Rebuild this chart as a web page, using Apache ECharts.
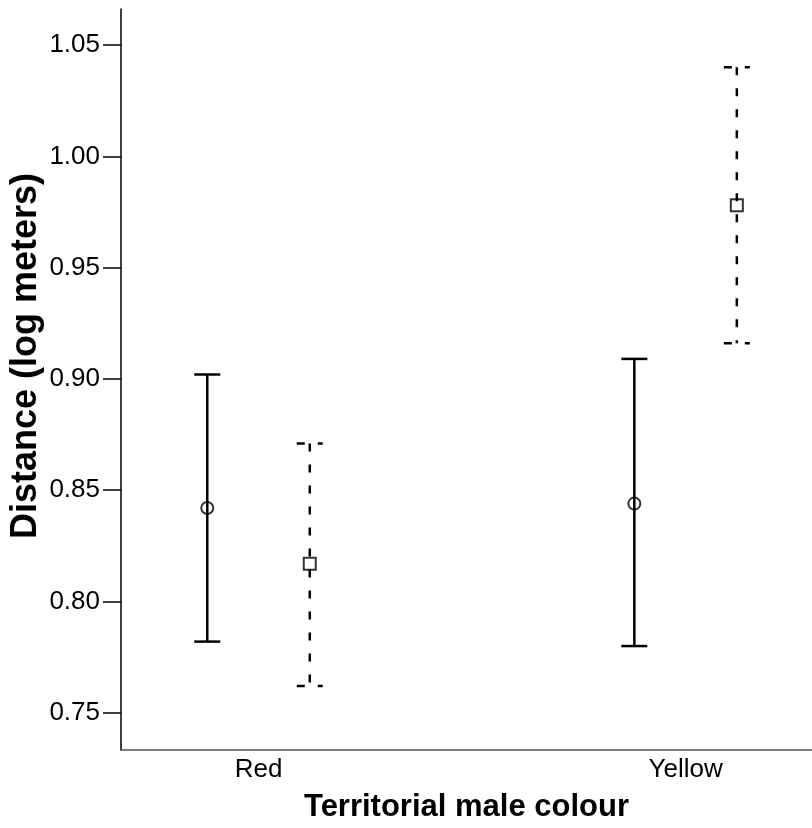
<!DOCTYPE html>
<html>
<head>
<meta charset="utf-8">
<script src="https://cdn.jsdelivr.net/npm/echarts@6/dist/echarts.min.js"></script>
<style>
  html, body { margin: 0; padding: 0; background: #fff; }
  #chart { width: 812px; height: 828px; }
</style>
</head>
<body>
<div id="chart"></div>
<script>
// categories on the x axis
const categories = ['Red', 'Yellow'];
// circle group (solid error bars)
const circleMean = [0.842, 0.844];
const circleLow = [0.782, 0.780];
const circleHigh = [0.902, 0.909];
// square group (dashed error bars)
const squareMean = [0.817, 0.978];
const squareLow = [0.762, 0.916];
const squareHigh = [0.871, 1.040];
// y tick labels
const yTicks = [0.75, 0.80, 0.85, 0.90, 0.95, 1.00, 1.05];

const SHIFT = 0.12; // side-by-side offset of the two groups
const FONT = 'Liberation Sans, Arial, sans-serif';

const circleBars = categories.map((c, i) => [i + 1 - SHIFT, circleLow[i], circleHigh[i]]);
const squareBars = categories.map((c, i) => [i + 1 + SHIFT, squareLow[i], squareHigh[i]]);
const circlePts = categories.map((c, i) => [i + 1 - SHIFT, circleMean[i]]);
const squarePts = categories.map((c, i) => [i + 1 + SHIFT, squareMean[i]]);

function errorBar(dashed) {
  return function (params, api) {
    const top = api.coord([api.value(0), api.value(2)]);
    const bot = api.coord([api.value(0), api.value(1)]);
    const half = 13;
    const style = { stroke: '#000', lineWidth: 2.5, fill: null, lineDash: dashed ? [8, 13] : null };
    return {
      type: 'group',
      children: [
        { type: 'line', shape: { x1: top[0], y1: top[1], x2: bot[0], y2: bot[1] }, style: style },
        { type: 'line', shape: { x1: top[0] - half, y1: top[1], x2: top[0] + half, y2: top[1] }, style: style },
        { type: 'line', shape: { x1: bot[0] - half, y1: bot[1], x2: bot[0] + half, y2: bot[1] }, style: style }
      ]
    };
  };
}

const chart = echarts.init(document.getElementById('chart'));

chart.setOption({
  animation: false,
  backgroundColor: '#fff',
  grid: { left: 121, right: 0, top: 9, bottom: 78 },
  xAxis: {
    type: 'value',
    min: 0.678,
    max: 2.296,
    splitLine: { show: false },
    axisLine: { onZero: false, lineStyle: { color: '#555', width: 1.5 } },
    axisTick: { show: false },
    axisLabel: {
      customValues: [1, 2],
      formatter: v => categories[Math.round(v) - 1],
      color: '#000', fontSize: 26, fontFamily: FONT, margin: 7
    },
    name: 'Territorial male colour',
    nameLocation: 'middle',
    nameGap: 42,
    nameTextStyle: { color: '#000', fontSize: 31, fontWeight: 'bold', fontFamily: FONT }
  },
  yAxis: {
    type: 'value',
    min: 0.7333,
    max: 1.0662,
    splitLine: { show: false },
    axisLine: { show: true, onZero: false, lineStyle: { color: '#000', width: 1.5 } },
    axisTick: { show: true, customValues: yTicks, length: 18, lineStyle: { color: '#000', width: 1.5 } },
    axisLabel: {
      customValues: yTicks,
      formatter: v => v.toFixed(2),
      color: '#000', fontSize: 26, fontFamily: FONT, margin: 21
    }
  },
  graphic: [
    {
      type: 'text',
      x: 26,
      y: 356,
      rotation: Math.PI / 2,
      style: {
        text: 'Distance (log meters)',
        fill: '#000',
        font: 'bold 36px ' + FONT,
        align: 'center',
        verticalAlign: 'middle'
      }
    }
  ],
  series: [
    { type: 'custom', renderItem: errorBar(false), data: circleBars, encode: { x: 0, y: [1, 2] }, z: 2 },
    { type: 'custom', renderItem: errorBar(true), data: squareBars, encode: { x: 0, y: [1, 2] }, z: 2 },
    {
      type: 'scatter', data: circlePts, symbol: 'circle', symbolSize: 12, z: 3,
      itemStyle: { color: 'rgba(0,0,0,0)', borderColor: '#000', borderWidth: 2 }
    },
    {
      type: 'scatter', data: squarePts, symbol: 'rect', symbolSize: 12, z: 3,
      itemStyle: { color: 'rgba(0,0,0,0)', borderColor: '#000', borderWidth: 2 }
    }
  ]
});
</script>
</body>
</html>
